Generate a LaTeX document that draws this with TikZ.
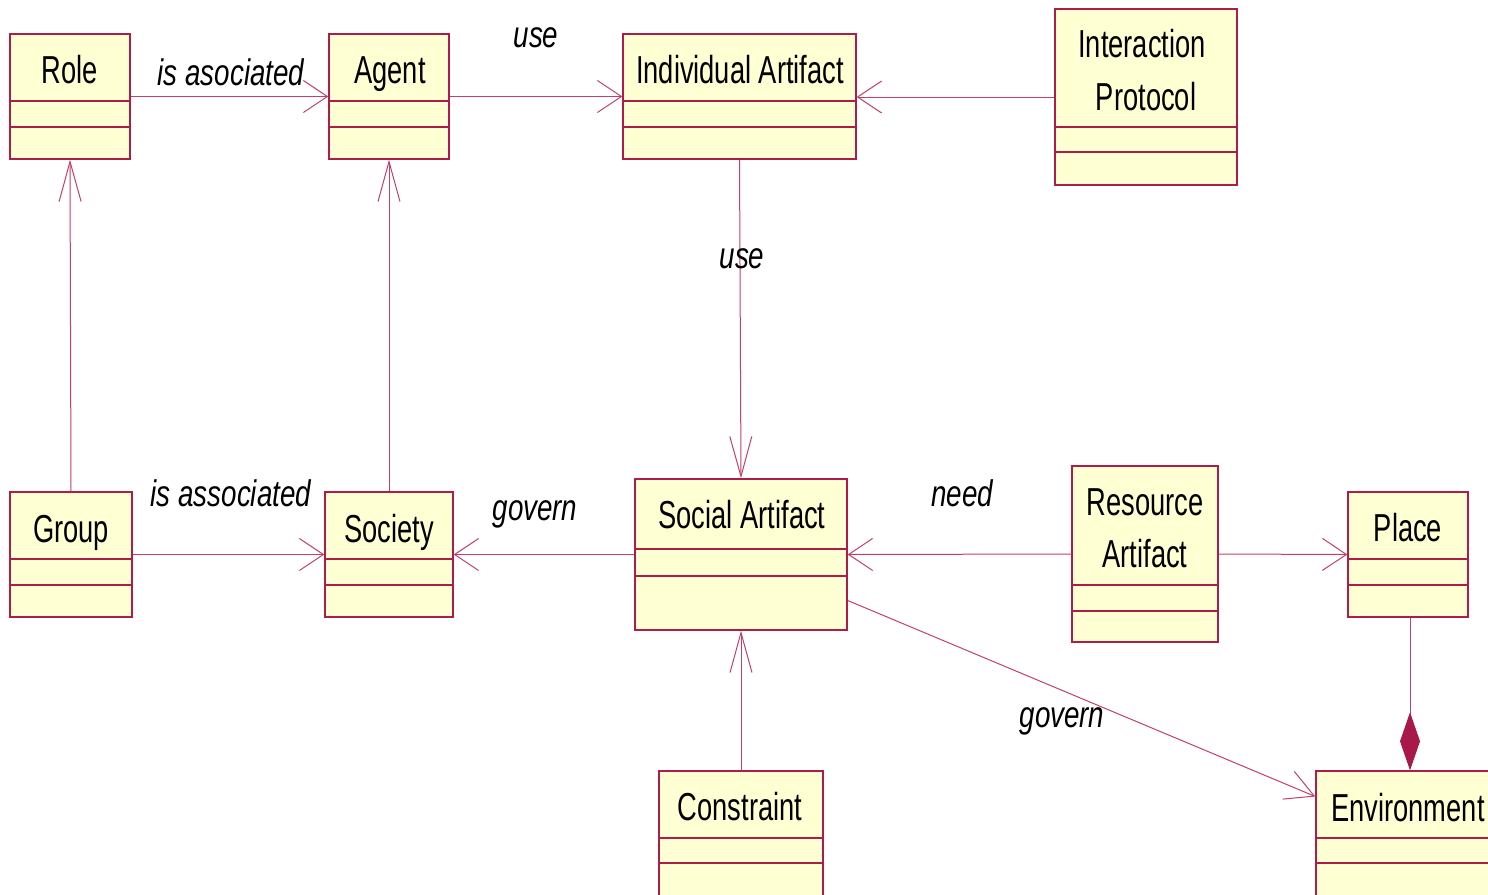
\documentclass[tikz,border=0pt]{standalone}
\usepackage{fontspec}
\setmainfont{Liberation Sans}[FakeStretch=0.70]
\newfontfamily\lblfont{Liberation Sans}[FakeStretch=0.75]
\usetikzlibrary{arrows.meta,calc}

\definecolor{umlline}{RGB}{176,28,74}
\definecolor{umlconn}{RGB}{196,64,108}
\definecolor{umlfill}{RGB}{255,255,212}
\definecolor{umldiam}{RGB}{168,24,72}

\tikzset{
  umlbox/.style={draw=umlline, fill=umlfill, line width=1.4pt, inner sep=0pt, rectangle},
  divider/.style={draw=umlline, line width=1.2pt},
  cname/.style={anchor=base, inner sep=0pt, font=\fontsize{39}{44}\selectfont},
  lbl/.style={anchor=base, inner sep=0pt, font=\lblfont\itshape\fontsize{37}{42}\selectfont},
  conn/.style={draw=umlconn, line width=1pt},
  hv/.style={conn, -{Straight Barb[length=24pt,width=32pt]}},
  vv/.style={conn, -{Straight Barb[length=40pt,width=22pt]}},
}

% \umlclass{name}{x1}{y1}{x2}{y2}{divider1}{divider2}
\newcommand{\umlclass}[7]{%
  \node[umlbox, minimum width={(#4-#2)*1pt}, minimum height={(#5-#3)*1pt}]
    (#1) at ({(#2+#4)/2},{(#3+#5)/2}) {};
  \draw[divider] (#1.west |- 0,#6) -- (#1.east |- 0,#6);
  \draw[divider] (#1.west |- 0,#7) -- (#1.east |- 0,#7);
}

\begin{document}
\begin{tikzpicture}[x=1pt,y=-1pt]
  \path[use as bounding box, clip] (0,0) rectangle (1488,894);
  \fill[white] (0,0) rectangle (1488,894);

  % classes
  \umlclass{role}{10}{34}{130}{159}{101}{127}
  \umlclass{agent}{329}{34}{449}{159}{101}{127}
  \umlclass{ia}{623}{34}{856}{159}{101}{127}
  \umlclass{ip}{1055}{9}{1237}{185}{127}{152}
  \umlclass{group}{10}{492}{132}{617}{559}{585}
  \umlclass{society}{325}{492}{453}{617}{559}{585}
  \umlclass{social}{635}{479}{847}{630}{549}{576}
  \umlclass{res}{1072}{466}{1218}{642}{585}{611}
  \umlclass{place}{1348}{492}{1468}{617}{559}{585}
  \umlclass{constraint}{659}{771}{823}{912}{838}{863}
  \umlclass{env}{1316}{771}{1504}{912}{838}{863}

  % class names
  \node[cname] (role-n) at (70,83) {Role};
  \node[cname] (agent-n) at (390,83) {Agent};
  \node[cname] (ia-n) at (740,83) {Individual Artifact};
  \node[cname] (ip-n1) at (1142,57) {Interaction};
  \node[cname] (ip-n2) at (1146,110) {Protocol};
  \node[cname] (group-n) at (71,542) {Group};
  \node[cname] (society-n) at (389,542) {Society};
  \node[cname] (social-n) at (742,528) {Social Artifact};
  \node[cname] (res-n1) at (1145,515) {Resource};
  \node[cname] (res-n2) at (1145,567) {Artifact};
  \node[cname] (place-n) at (1408,541) {Place};
  \node[cname] (constraint-n) at (740,820) {Constraint};
  \node[cname] (env-n) at (1408,821) {Environment};

  % associations
  \draw[hv] (role.east) -- (agent.west);
  \draw[hv] (agent.east) -- (ia.west);
  \draw[hv] (ip.west) -- (ip.west -| ia.east);
  \draw[vv] (ia.south) -- (social.north);
  \draw[vv] (group.north) -- (role.south);
  \draw[vv] (society.north) -- (agent.south);
  \draw[hv] (group.east) -- (society.west);
  \draw[hv] (social.west) -- (society.east);
  \draw[hv] (res.west) -- (social.east);
  \draw[hv] (res.east) -- (place.west);
  \draw[vv] (constraint.north) -- (social.south);
  \draw[conn, -{Straight Barb[length=28pt,width=30pt]}]
    ([yshift=-46pt]social.east) -- ([yshift=45pt]env.west);
  % composition: place is part of environment
  \draw[conn, -{Diamond[length=58pt,width=20pt,fill=umldiam,color=umldiam]}]
    (env.north |- place.south) -- (env.north);

  % association labels
  \node[lbl] (l-assoc1) at (231,85) {is asociated};
  \node[lbl] (l-use1) at (536,47) {use};
  \node[lbl] (l-use2) at (742,268) {use};
  \node[lbl] (l-assoc2) at (231,506) {is associated};
  \node[lbl] (l-gov1) at (535,520) {govern};
  \node[lbl] (l-need) at (962,506) {need};
  \node[lbl] (l-gov2) at (1062,727) {govern};
\end{tikzpicture}
\end{document}
